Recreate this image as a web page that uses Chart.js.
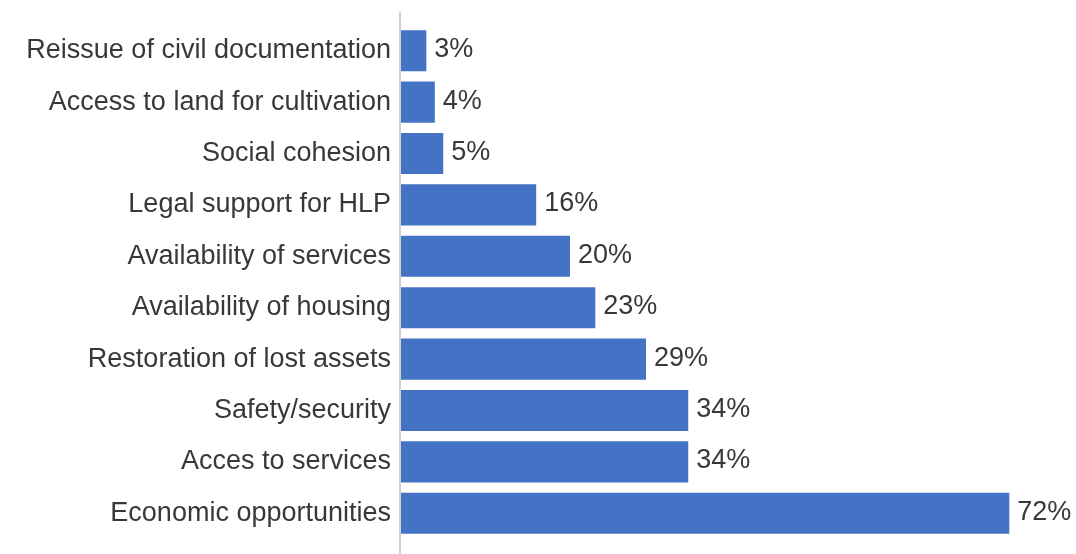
<!DOCTYPE html>
<html>
<head>
<meta charset="utf-8">
<script src="https://cdn.jsdelivr.net/npm/chart.js@4/dist/chart.umd.min.js"></script>
<style>
  html, body { margin: 0; padding: 0; background: #fff; }
  #wrap { width: 1076px; height: 554px; position: relative; }
</style>
</head>
<body>
<div id="wrap"><canvas id="bars"></canvas></div>
<script>
const categories = [
    'Reissue of civil documentation',
    'Access to land for cultivation',
    'Social cohesion',
    'Legal support for HLP',
    'Availability of services',
    'Availability of housing',
    'Restoration of lost assets',
    'Safety/security',
    'Acces to services',
    'Economic opportunities'
];
const shares = [3, 4, 5, 16, 20, 23, 29, 34, 34, 72]; // percent of respondents

const barColor = '#4472C4';
const textColor = '#383838';
const fontFamily = '"Liberation Sans", Arial, sans-serif';
const fontSize = 27;

// value labels to the right of each bar
const valueLabels = {
    id: 'valueLabels',
    afterDatasetsDraw(chart) {
        const ctx = chart.ctx;
        const meta = chart.getDatasetMeta(0);
        ctx.save();
        ctx.font = fontSize + 'px ' + fontFamily;
        ctx.fillStyle = textColor;
        ctx.textAlign = 'left';
        ctx.textBaseline = 'middle';
        meta.data.forEach((bar, i) => {
            ctx.fillText(shares[i] + '%', bar.x + 8, bar.y - 1);
        });
        ctx.restore();
    }
};

// vertical axis line, runs past the plot area
const axisLine = {
    id: 'axisLine',
    beforeDatasetsDraw(chart) {
        const ctx = chart.ctx;
        const x = chart.scales.x.getPixelForValue(0) - 1;
        ctx.save();
        ctx.strokeStyle = '#d0d0d0';
        ctx.lineWidth = 2;
        ctx.beginPath();
        ctx.moveTo(x, 12);
        ctx.lineTo(x, chart.height);
        ctx.stroke();
        ctx.restore();
    }
};

const ctx = document.getElementById('bars').getContext('2d');
const chart = new Chart(ctx, {
    type: 'bar',
    data: {
        labels: categories,
        datasets: [{
            data: shares,
            backgroundColor: barColor,
            borderWidth: 0,
            barPercentage: 0.8,
            categoryPercentage: 1.0
        }]
    },
    options: {
        indexAxis: 'y',
        responsive: true,
        maintainAspectRatio: false,
        animation: false,
        layout: { padding: { top: 25, bottom: 15, right: 16, left: 0 } },
        plugins: {
            legend: { display: false },
            tooltip: { enabled: false }
        },
        scales: {
            x: {
                display: false,
                min: 0,
                max: 78
            },
            y: {
                afterFit: scale => {
                    scale.width = 401;
                    // labels sit inside their bands, no extra room needed at the ends
                    scale.paddingTop = 0;
                    scale.paddingBottom = 0;
                },
                grid: { display: false, drawTicks: false },
                border: { display: false },
                ticks: {
                    color: textColor,
                    padding: 10,
                    font: { family: fontFamily, size: fontSize }
                }
            }
        }
    },
    plugins: [axisLine, valueLabels]
});
</script>
</body>
</html>
